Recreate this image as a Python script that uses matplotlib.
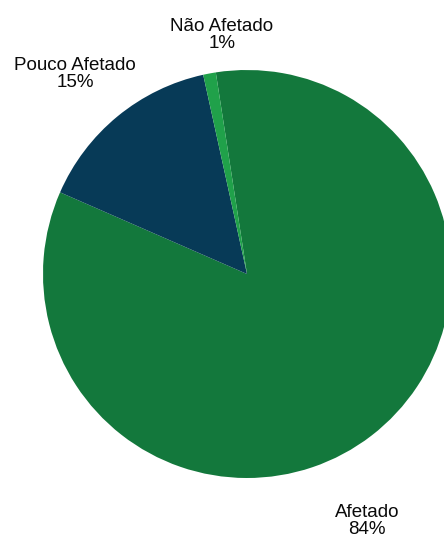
import matplotlib
matplotlib.use("Agg")
import matplotlib.pyplot as plt

# Share of respondents by impact level
categories = ["Afetado", "Pouco Afetado", "Não Afetado"]
percentages = [84, 15, 1]
colors = ["#13783c", "#073a57", "#20a14a"]

# Label text anchor points (pixel space of the figure, y measured from top)
label_x = [367, 75, 222]
label_y = [521, 74, 35]

W, H = 444, 546
fig = plt.figure(figsize=(W / 100, H / 100), dpi=100)
ax = fig.add_axes([0, 0, 1, 1])

ax.pie(
    percentages,
    colors=colors,
    center=(247, H - 274),
    radius=204,
    startangle=98.8,
    counterclock=False,
    wedgeprops=dict(linewidth=0, antialiased=True),
    frame=True,
)
ax.set_xlim(0, W)
ax.set_ylim(0, H)
ax.set_aspect("equal")
ax.axis("off")

for name, pct, x, y in zip(categories, percentages, label_x, label_y):
    ax.text(
        x, H - y, f"{name}\n{pct}%",
        ha="center", va="center", fontsize=13.5,
        family="Liberation Sans", color="#0a0a0a",
        linespacing=1.0,
    )

fig.savefig("out.png", dpi=100)
